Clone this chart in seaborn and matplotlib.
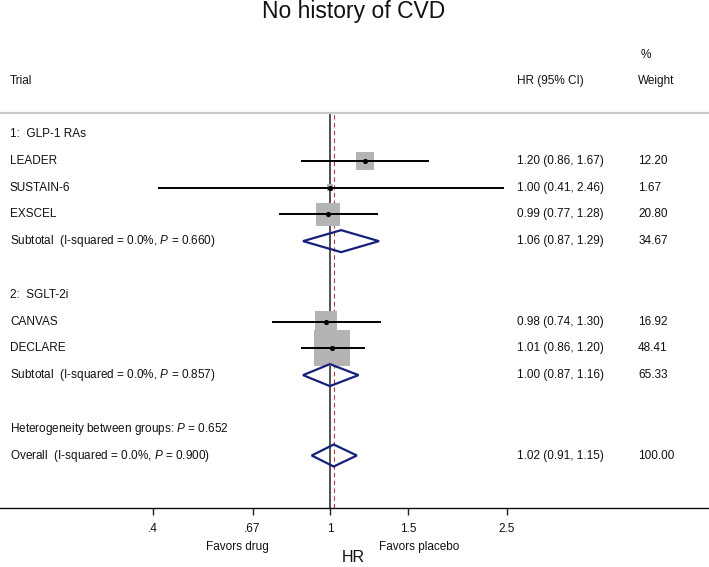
import numpy as np
import pandas as pd
import seaborn as sns
import matplotlib
matplotlib.use("Agg")
from matplotlib import pyplot as plt
from matplotlib import transforms

# trial level estimates
trials = ['LEADER', 'SUSTAIN-6', 'EXSCEL', 'CANVAS', 'DECLARE']
trial_rows = [1, 2, 3, 7, 8]
trial_hr = [1.20, 1.00, 0.99, 0.98, 1.01]
trial_lo = [0.86, 0.41, 0.77, 0.74, 0.86]
trial_hi = [1.67, 2.46, 1.28, 1.30, 1.20]
trial_weight = [12.20, 1.67, 20.80, 16.92, 48.41]

# pooled estimates (two subtotals + overall)
pooled_names = ['Subtotal', 'Subtotal', 'Overall']
pooled_rows = [4, 9, 12]
pooled_hr = [1.06, 1.00, 1.02]
pooled_lo = [0.87, 0.87, 0.91]
pooled_hi = [1.29, 1.16, 1.15]
pooled_weight = [34.67, 65.33, 100.00]
pooled_i2 = ['0.0%', '0.0%', '0.0%']
pooled_p = ['0.660', '0.857', '0.900']

groups = ['1:  GLP-1 RAs', '2:  SGLT-2i']
group_rows = [0, 6]
het_p = '0.652'
het_row = 11

xticks = [0.4, 0.67, 1, 1.5, 2.5]
xticklabels = ['.4', '.67', '1', '1.5', '2.5']

sns.set_theme(style='white')
plt.rcParams['font.family'] = ['Liberation Sans', 'DejaVu Sans']
plt.rcParams['mathtext.fontset'] = 'custom'
plt.rcParams['mathtext.rm'] = 'Liberation Sans'
plt.rcParams['mathtext.it'] = 'Liberation Sans:italic'

fs = 8.5
fig = plt.figure(figsize=(7.09, 5.67), dpi=100)
ax = fig.add_axes([0, 0.104, 1, 0.6966])
ax.set_xscale('log')

df = pd.DataFrame({'trial': trials, 'row': trial_rows, 'hr': trial_hr,
                   'lo': trial_lo, 'hi': trial_hi, 'weight': trial_weight})

# reference lines
ax.axvline(1, color='#222222', lw=1.1, zorder=1)
ax.axvline(pooled_hr[-1], color='#b0384a', lw=0.8, ls=(0, (4, 3)), zorder=1)

# weight boxes, area proportional to weight
sns.scatterplot(data=df, x='hr', y='row', size='weight', sizes=(0, 660),
                size_norm=(0, max(trial_weight)), marker='s', color='#b4b4b4',
                linewidth=0, legend=False, ax=ax, zorder=2)
ax.hlines(df['row'], df['lo'], df['hi'], color='black', lw=1.4, zorder=3)
sns.scatterplot(data=df, x='hr', y='row', color='black', s=14, linewidth=0,
                legend=False, ax=ax, zorder=4)

# diamonds for pooled estimates
h = 0.41
for r, est, lo, hi in zip(pooled_rows, pooled_hr, pooled_lo, pooled_hi):
    ax.fill([lo, est, hi, est, lo], [r, r - h, r, r + h, r], facecolor='none',
            edgecolor='#16207a', lw=1.6, zorder=3)

ax.set_xlim(0.181, 7.13)
ax.set_ylim(13.96, -0.78)
ax.set_xticks(xticks)
ax.set_xticklabels(xticklabels)
ax.minorticks_off()
ax.set_yticks([])
ax.set_xlabel('')
ax.set_ylabel('')
ax.tick_params(axis='x', bottom=True, direction='out', length=5, width=1,
               color='#222222', labelsize=fs, pad=5.5, labelcolor='#111111')
for side in ['left', 'right']:
    ax.spines[side].set_visible(False)
ax.spines['top'].set_color('#c8c8c8')
ax.spines['top'].set_linewidth(1.6)
ax.spines['bottom'].set_color('#111111')
ax.spines['bottom'].set_linewidth(1.0)

# text columns
tr = transforms.blended_transform_factory(ax.transAxes, ax.transData)
xl, xhr, xw = 0.0141, 0.729, 0.900
kw = dict(transform=tr, fontsize=fs, va='center', clip_on=False, color='#111111')

ax.text(xl, -1.98, 'Trial', **kw)
ax.text(xhr, -1.98, 'HR (95% CI)', **kw)
ax.text(xw, -1.98, 'Weight', **kw)
ax.text(xw + 0.003, -2.95, '%', **kw)

for g, r in zip(groups, group_rows):
    ax.text(xl, r, g, **kw)

for i in range(len(trials)):
    ax.text(xl, trial_rows[i], trials[i], **kw)
    ax.text(xhr, trial_rows[i], '%.2f (%.2f, %.2f)' % (trial_hr[i], trial_lo[i], trial_hi[i]), **kw)
    ax.text(xw, trial_rows[i], '%.2f' % trial_weight[i], **kw)

for i in range(len(pooled_rows)):
    lab = pooled_names[i] + '  (I-squared = ' + pooled_i2[i] + ', $P$ = ' + pooled_p[i] + ')'
    ax.text(xl, pooled_rows[i], lab, **kw)
    ax.text(xhr, pooled_rows[i], '%.2f (%.2f, %.2f)' % (pooled_hr[i], pooled_lo[i], pooled_hi[i]), **kw)
    ax.text(xw, pooled_rows[i], '%.2f' % pooled_weight[i], **kw)

ax.text(xl, het_row, 'Heterogeneity between groups: $P$ = ' + het_p, **kw)

# favors labels and axis title
trx = transforms.blended_transform_factory(ax.transData, fig.transFigure)
ax.text(0.618, 1 - 547 / 567, 'Favors drug', transform=trx, ha='center', va='center',
        fontsize=fs, color='#111111', clip_on=False)
ax.text(1.59, 1 - 547 / 567, 'Favors placebo', transform=trx, ha='center', va='center',
        fontsize=fs, color='#111111', clip_on=False)
fig.text(353 / 709, 1 - 558 / 567, 'HR', ha='center', va='center', fontsize=11.5,
         color='#111111')

fig.text(354 / 709, 1 - 18 / 567, 'No history of CVD', ha='center', va='baseline',
         fontsize=16.5, color='#111111')

fig.savefig('out.png', dpi=100)
